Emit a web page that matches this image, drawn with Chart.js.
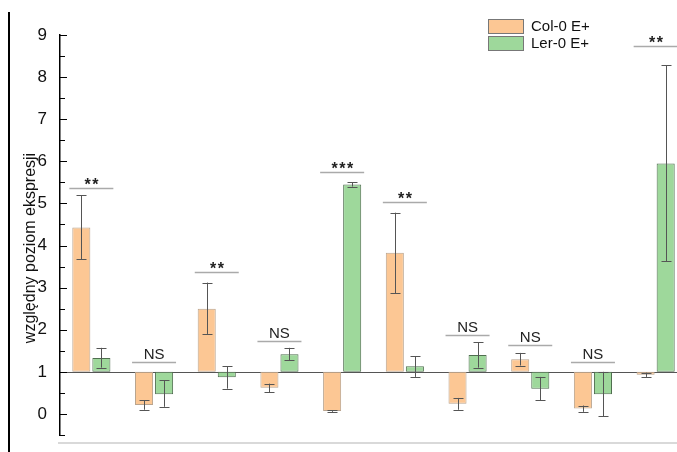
<!DOCTYPE html>
<html>
<head>
<meta charset="utf-8">
<script src="https://cdn.jsdelivr.net/npm/chart.js@4"></script>
<style>
  html, body { margin: 0; padding: 0; background: #fff; overflow: hidden; }
  #wrap { position: relative; width: 677px; height: 452px; overflow: hidden; }
  #bar { position: absolute; left: 8px; top: 12px; width: 2px; height: 440px; background: #000; }
  #myChart { position: absolute; left: 0; top: 0; }
</style>
</head>
<body>
<div id="wrap">
  <div id="bar"></div>
  <canvas id="myChart" width="700" height="452"></canvas>
</div>
<script>
const genes = ["g1", "g2", "g3", "g4", "g5", "g6", "g7", "g8", "g9", "g10"];
const colVals = [4.43, 0.21, 2.50, 0.62, 0.07, 3.83, 0.24, 1.30, 0.13, 0.93];
const colLow  = [3.67, 0.10, 1.90, 0.52, 0.05, 2.87, 0.10, 1.15, 0.05, 0.88];
const colHigh = [5.20, 0.33, 3.12, 0.72, 0.09, 4.78, 0.38, 1.45, 0.20, 0.98];
const lerVals = [1.33, 0.47, 0.87, 1.42, 5.45, 1.13, 1.40, 0.60, 0.47, 5.95];
const lerLow  = [1.10, 0.17, 0.60, 1.27, 5.40, 0.88, 1.10, 0.32, -0.05, 3.63];
const lerHigh = [1.57, 0.80, 1.13, 1.57, 5.50, 1.37, 1.70, 0.88, 1.00, 8.28];
const sigLabel = ["**", "NS", "**", "NS", "***", "**", "NS", "NS", "NS", "**"];
const sigLevel = [5.37, 1.24, 3.37, 1.73, 5.75, 5.03, 1.88, 1.64, 1.24, 8.74];
const baseLine = 1;

const errLows = [colLow, lerLow];
const errHighs = [colHigh, lerHigh];

const extras = {
  id: "extras",
  beforeDatasetsDraw(chart) {
    const ctx = chart.ctx;
    const y = chart.scales.y;
    const area = chart.chartArea;
    ctx.save();
    // base line at 1
    ctx.strokeStyle = "#555";
    ctx.lineWidth = 1;
    const yb = Math.round(y.getPixelForValue(baseLine)) + 0.5;
    ctx.beginPath();
    ctx.moveTo(area.left, yb);
    ctx.lineTo(chart.width, yb);
    ctx.stroke();
    ctx.restore();
  },
  afterDatasetsDraw(chart) {
    const ctx = chart.ctx;
    const y = chart.scales.y;
    const x = chart.scales.x;
    const area = chart.chartArea;
    ctx.save();
    // error bars
    chart.data.datasets.forEach((ds, di) => {
      const meta = chart.getDatasetMeta(di);
      meta.data.forEach((el, i) => {
        const lo = y.getPixelForValue(errLows[di][i]);
        const hi = y.getPixelForValue(errHighs[di][i]);
        const cx = Math.round(el.x) + 0.5;
        ctx.strokeStyle = "#555";
        ctx.lineWidth = 1;
        ctx.beginPath();
        ctx.moveTo(cx, lo); ctx.lineTo(cx, hi);
        ctx.moveTo(cx - 5, Math.round(lo) + 0.5); ctx.lineTo(cx + 5, Math.round(lo) + 0.5);
        ctx.moveTo(cx - 5, Math.round(hi) + 0.5); ctx.lineTo(cx + 5, Math.round(hi) + 0.5);
        ctx.stroke();
      });
    });
    // significance marks
    genes.forEach((g, i) => {
      const cx = x.getPixelForValue(i);
      const ly = Math.round(y.getPixelForValue(sigLevel[i])) + 0.5;
      ctx.strokeStyle = "#aaa";
      ctx.lineWidth = 1.5;
      ctx.beginPath();
      ctx.moveTo(cx - 22, ly); ctx.lineTo(cx + 22, ly);
      ctx.stroke();
      ctx.fillStyle = "#222";
      ctx.textAlign = "center";
      ctx.textBaseline = "alphabetic";
      if (sigLabel[i] === "NS") {
        ctx.font = "15px 'Liberation Sans', Arial";
        ctx.letterSpacing = "0px";
        ctx.fillText(sigLabel[i], cx, ly - 4);
      } else {
        ctx.font = "bold 16px 'Liberation Sans', Arial";
        ctx.letterSpacing = "1.5px";
        ctx.fillText(sigLabel[i], cx + 1, ly + 1);
      }
    });
    ctx.letterSpacing = "0px";
    // y ticks (inward, major + minor)
    ctx.strokeStyle = "#000";
    ctx.lineWidth = 1;
    for (let v = -0.5; v <= 9.001; v += 0.5) {
      const py = Math.round(y.getPixelForValue(v)) + 0.5;
      const len = Number.isInteger(v) ? 7 : 5;
      ctx.beginPath();
      ctx.moveTo(area.left, py); ctx.lineTo(area.left + len, py);
      ctx.stroke();
    }
    // bottom grey line
    ctx.strokeStyle = "#ccc";
    ctx.lineWidth = 1.5;
    ctx.beginPath();
    ctx.moveTo(58, 443); ctx.lineTo(chart.width, 443);
    ctx.stroke();
    // axis title
    ctx.save();
    ctx.translate(31, 248);
    ctx.rotate(-Math.PI / 2);
    ctx.fillStyle = "#111";
    ctx.font = "16px 'Liberation Sans', Arial";
    ctx.textAlign = "center";
    ctx.textBaseline = "middle";
    ctx.fillText("względny poziom ekspresji", 0, 0);
    ctx.restore();
    // legend
    chart.data.datasets.forEach((ds, di) => {
      const ly = 19 + di * 17;
      ctx.fillStyle = ds.backgroundColor;
      ctx.fillRect(488, ly, 36, 15);
      ctx.strokeStyle = "#777";
      ctx.lineWidth = 1;
      ctx.strokeRect(488.5, ly + 0.5, 35, 14);
      ctx.fillStyle = "#111";
      ctx.font = "15px 'Liberation Sans', Arial";
      ctx.textAlign = "left";
      ctx.textBaseline = "middle";
      ctx.fillText(ds.label, 531, ly + 8);
    });
    ctx.restore();
  }
};

const data = {
  labels: genes,
  datasets: [
    {
      label: "Col-0 E+",
      data: colVals.map(v => [baseLine, v]),
      backgroundColor: "#fcc794",
      borderColor: "#b9a48e",
      borderWidth: 1,
      borderSkipped: false,
      categoryPercentage: 0.64,
      barPercentage: 0.9,
    },
    {
      label: "Ler-0 E+",
      data: lerVals.map(v => [baseLine, v]),
      backgroundColor: "#9ed89b",
      borderColor: "#4f6e4f",
      borderWidth: 1,
      borderSkipped: false,
      categoryPercentage: 0.64,
      barPercentage: 0.9,
    },
  ],
};

const config = {
  type: "bar",
  data: data,
  options: {
    responsive: false,
    animation: false,
    layout: { padding: { top: 35, bottom: 17, right: 13, left: 0 } },
    plugins: {
      legend: { display: false },
      tooltip: { enabled: false },
    },
    scales: {
      x: { display: false },
      y: {
        min: -0.5,
        max: 9,
        afterFit: (scale) => { scale.width = 60; },
        ticks: {
          stepSize: 0.5,
          autoSkip: false,
          color: "#111",
          padding: 6,
          font: { size: 17, family: "'Liberation Sans', Arial" },
          callback: (v) => (Number.isInteger(v) ? String(v) : ""),
        },
        grid: {
          drawOnChartArea: false,
          drawTicks: true,
          tickLength: 7,
          tickColor: "rgba(0,0,0,0)",
        },
        border: { color: "#000", width: 1.5 },
      },
    },
  },
  plugins: [extras],
};

const ctx = document.getElementById("myChart").getContext("2d");
new Chart(ctx, config);
</script>
</body>
</html>
